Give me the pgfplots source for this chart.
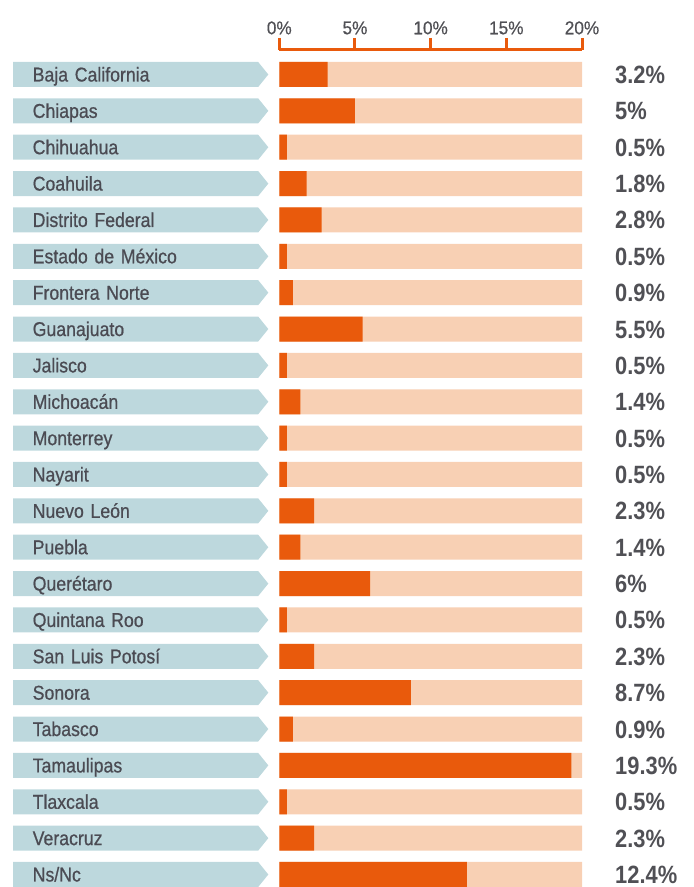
\documentclass[border=0pt]{standalone}
\usepackage{pgfplots}
\pgfplotsset{compat=1.18}
\usepackage{pgfplotstable}
\usepackage{fontspec}
\setmainfont{Liberation Sans}[FakeStretch=0.9]
\newfontfamily\labfont{Liberation Sans}[FakeStretch=0.885, FakeBold=0.7]
\newfontfamily\valfont{Liberation Sans}[FakeStretch=0.875]
\newfontfamily\tickfont{Liberation Sans}[FakeStretch=0.93, FakeBold=0.5]
\usetikzlibrary{shapes.symbols}
\definecolor{barorange}{HTML}{E95A0C}
\definecolor{barbg}{HTML}{F8D0B4}
\definecolor{labbox}{HTML}{BDD8DD}
\definecolor{labtext}{HTML}{4B4B53}
\definecolor{valtext}{HTML}{505055}

\pgfplotstableread[col sep=comma]{
y,val,name
22,3.2,Baja California
21,5,Chiapas
20,0.5,Chihuahua
19,1.8,Coahuila
18,2.8,Distrito Federal
17,0.5,Estado de México
16,0.9,Frontera Norte
15,5.5,Guanajuato
14,0.5,Jalisco
13,1.4,Michoacán
12,0.5,Monterrey
11,0.5,Nayarit
10,2.3,Nuevo León
9,1.4,Puebla
8,6,Querétaro
7,0.5,Quintana Roo
6,2.3,San Luis Potosí
5,8.7,Sonora
4,0.9,Tabasco
3,19.3,Tamaulipas
2,0.5,Tlaxcala
1,2.3,Veracruz
0,12.4,Ns/Nc
}\data

\begin{document}
\begin{tikzpicture}
\begin{axis}[
  scale only axis, width=302.7pt, height=837pt,
  xmin=0, xmax=20, ymin=-0.344, ymax=22.674,
  axis x line*=top, hide y axis,
  axis line style={barorange, line width=3pt, -},
  xtick={0,5,10,15,20},
  xticklabel={\pgfmathprintnumber{\tick}\%},
  /pgf/number format/assume math mode=true,
  xticklabel style={font=\tickfont\fontsize{18.5}{20}\selectfont, text=valtext},
  tick align=outside, major tick length=12pt,
  tick style={barorange, line width=3pt},
  clip=false,
]
\addplot[xbar, bar width=25pt, bar shift=0pt, fill=barbg, draw=none] table[x expr=20, y=y] {\data};
\addplot[xbar, bar width=25pt, bar shift=0pt, fill=barorange, draw=none] table[x=val, y=y] {\data};
\addplot[draw=none, point meta=explicit,
  nodes near coords={\pgfmathprintnumber[assume math mode=true]{\pgfplotspointmeta}\%},
  nodes near coords style={anchor=west, inner sep=0pt, text height=18pt, text depth=0pt,
    font=\valfont\bfseries\fontsize{25}{27}\selectfont, text=valtext}]
  table[x expr=22.18, y=y, meta=val] {\data};
\addplot[draw=none, point meta=explicit symbolic, nodes near coords,
  nodes near coords style={anchor=west, shape=signal, signal to=east, signal pointer angle=102,
    fill=labbox, minimum height=25pt, inner ysep=0pt, inner xsep=19.5pt, text width=206pt,
    align=left, text height=14.5pt, text depth=0.5pt,
    font=\labfont\fontsize{20}{22}\selectfont, text=labtext}]
  table[x expr=-17.595, y=y, meta=name] {\data};
\coordinate (bbtl) at (axis cs:-18.454,24.049);
\coordinate (bbbr) at (axis cs:27.334,-0.344);
\end{axis}
\pgfresetboundingbox
\path[use as bounding box] (bbtl) rectangle (bbbr);
\end{tikzpicture}
\end{document}
